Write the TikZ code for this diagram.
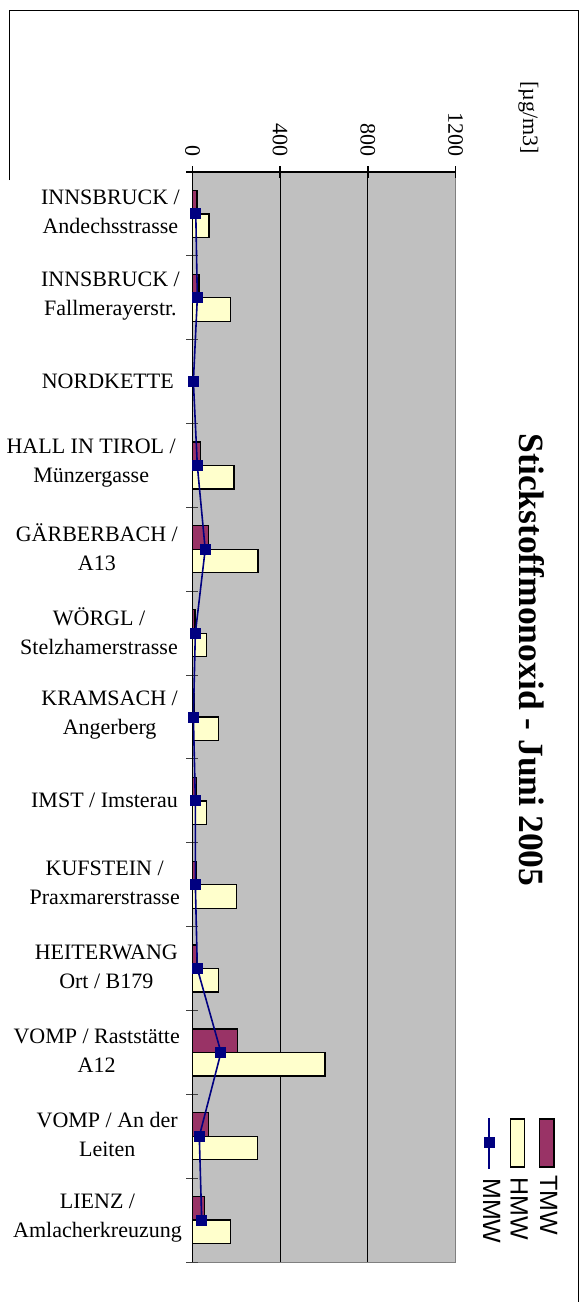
\documentclass[tikz,border=0pt]{standalone}
\usepackage{fontspec}
\setmainfont{Liberation Serif}
\newfontfamily\legfont{Liberation Sans}
\definecolor{tmwc}{HTML}{993366}
\definecolor{hmwc}{HTML}{FFFFCC}
\definecolor{mmwc}{HTML}{000080}
\definecolor{plotgray}{HTML}{C0C0C0}
\definecolor{bordergray}{HTML}{808080}
\begin{document}
\begin{tikzpicture}[x=1pt,y=-1pt,
  declare function={vx(\v)=192.5+\v*0.21917;},
  cat/.style={anchor=east, align=center, inner sep=0pt, font=\fontsize{22}{29}\selectfont},
  axnum/.style={anchor=east, rotate=-90, inner sep=0pt, font=\fontsize{22}{26}\selectfont},
  barline/.style={draw=black, line width=1.3pt},
  mmwmark/.style={rectangle, fill=mmwc, minimum size=11pt, inner sep=0pt},
  legtext/.style={anchor=base west, rotate=-90, inner sep=0pt, font=\legfont\fontsize{25}{28}\selectfont}]
\useasboundingbox (0,0) rectangle (584,1302);
\fill[white] (0,0) rectangle (584,1302);
% outer frame
\draw[line width=1pt] (9.5,180) -- (9.5,10.5) -- (578.5,10.5) -- (578.5,1302);
% plot area
\fill[plotgray] (192.5,172) rectangle (455.5,1262);
\draw[bordergray, line width=1pt] (192.5,1262) -- (455.5,1262) -- (455.5,172);
% grid lines
\foreach \v in {400,800} \draw[black, line width=0.9pt] ({vx(\v)},172) -- ({vx(\v)},1262);
% category ticks
\foreach \k in {1,...,13} \draw[black!75, line width=0.9pt] (186,{172+\k*83.846}) -- (198,{172+\k*83.846});
% bars and MMW points
\foreach \i/\t/\h/\m in {0/20.5/75/15, 1/30/174/22, 2/0/0/4, 3/37/189/22, 4/74/299/58,
   5/11/65/13, 6/10/120/4, 7/19/65/13, 8/19/202/13, 9/19/120/22, 10/206/605/130,
   11/74/298/31, 12/54/172/42} {
  \pgfmathsetmacro\c{172+(\i+0.5)*83.846}
  \ifdim\t pt>0pt
    \filldraw[fill=tmwc, barline] (192.5,{\c-23.5}) rectangle ({vx(\t)},\c);
  \fi
  \ifdim\h pt>0pt
    \filldraw[fill=hmwc, barline] (192.5,\c) rectangle ({vx(\h)},{\c+23.5});
  \fi
  \coordinate (p\i) at ({vx(\m)},\c);
}
% axes
\draw[black, line width=1.5pt] (192.5,172) -- (192.5,1262);
\draw[black, line width=2pt] (186,172) -- (455.5,172);
\foreach \v in {0,400,800,1200} \draw[black, line width=1.5pt] ({vx(\v)},166) -- ({vx(\v)},178);
% MMW line and markers
\draw[mmwc, line width=1.6pt] (p0) -- (p1) -- (p2) -- (p3) -- (p4) -- (p5) -- (p6) -- (p7)
  -- (p8) -- (p9) -- (p10) -- (p11) -- (p12);
\foreach \i in {0,...,12} \node[mmwmark] (mk\i) at (p\i) {};
% axis numbers
\node[axnum] (n0) at ({vx(0)},157) {0};
\node[axnum] (n400) at ({vx(400)},157) {400};
\node[axnum] (n800) at ({vx(800)},157) {800};
\node[axnum] (n1200) at ({vx(1200)},157) {1200};
\node[rotate=-90, inner sep=0pt, font=\fontsize{22}{26}\selectfont] (unit) at (528.5,117.5) {[µg/m3]};
% title
\node[rotate=-90, inner sep=0pt, font=\bfseries\fontsize{35.5}{40}\selectfont] (title) at (532,660) {Stickstoffmonoxid - Juni 2005};
% category labels
\node[cat] (l0) at (180,211.9) {INNSBRUCK /\\Andechsstrasse};
\node[cat] (l1) at (180,295.8) {INNSBRUCK /\\Fallmerayerstr.};
\node[cat] (l2) at (174,381.6) {NORDKETTE};
\node[cat] (l3) at (176,463.5) {HALL IN TIROL /\\Münzergasse};
\node[cat] (l4) at (178,547.3) {GÄRBERBACH /\\A13};
\node[cat] (l5) at (178,631.1) {WÖRGL /\\Stelzhamerstrasse};
\node[cat] (l6) at (178,715.0) {KRAMSACH /\\Angerberg};
\node[cat] (l7) at (178,800.8) {IMST / Imsterau};
\node[cat] (l8) at (180,882.7) {KUFSTEIN /\\Praxmarerstrasse};
\node[cat] (l9) at (178,966.5) {HEITERWANG\\Ort / B179};
\node[cat] (l10) at (180,1050.3) {VOMP / Raststätte\\A12};
\node[cat] (l11) at (178,1134.2) {VOMP / An der\\Leiten};
\node[cat] (l12) at (182,1218.0) {LIENZ /\\Amlacherkreuzung};
% legend
\filldraw[fill=tmwc, barline] (539.5,1119) rectangle (554,1167);
\filldraw[fill=hmwc, barline] (510.5,1119) rectangle (524.5,1167);
\coordinate (lgA) at (489,1118);
\coordinate (lgB) at (489,1169);
\draw[mmwc, line width=1.6pt] (lgA) -- (lgB);
\node[mmwmark] (lgm) at (489.5,1142) {};
\node[legtext] (lt1) at (540,1175) {TMW};
\node[legtext] (lt2) at (510.5,1177) {HMW};
\node[legtext] (lt3) at (483,1178) {MMW};
\end{tikzpicture}
\end{document}
